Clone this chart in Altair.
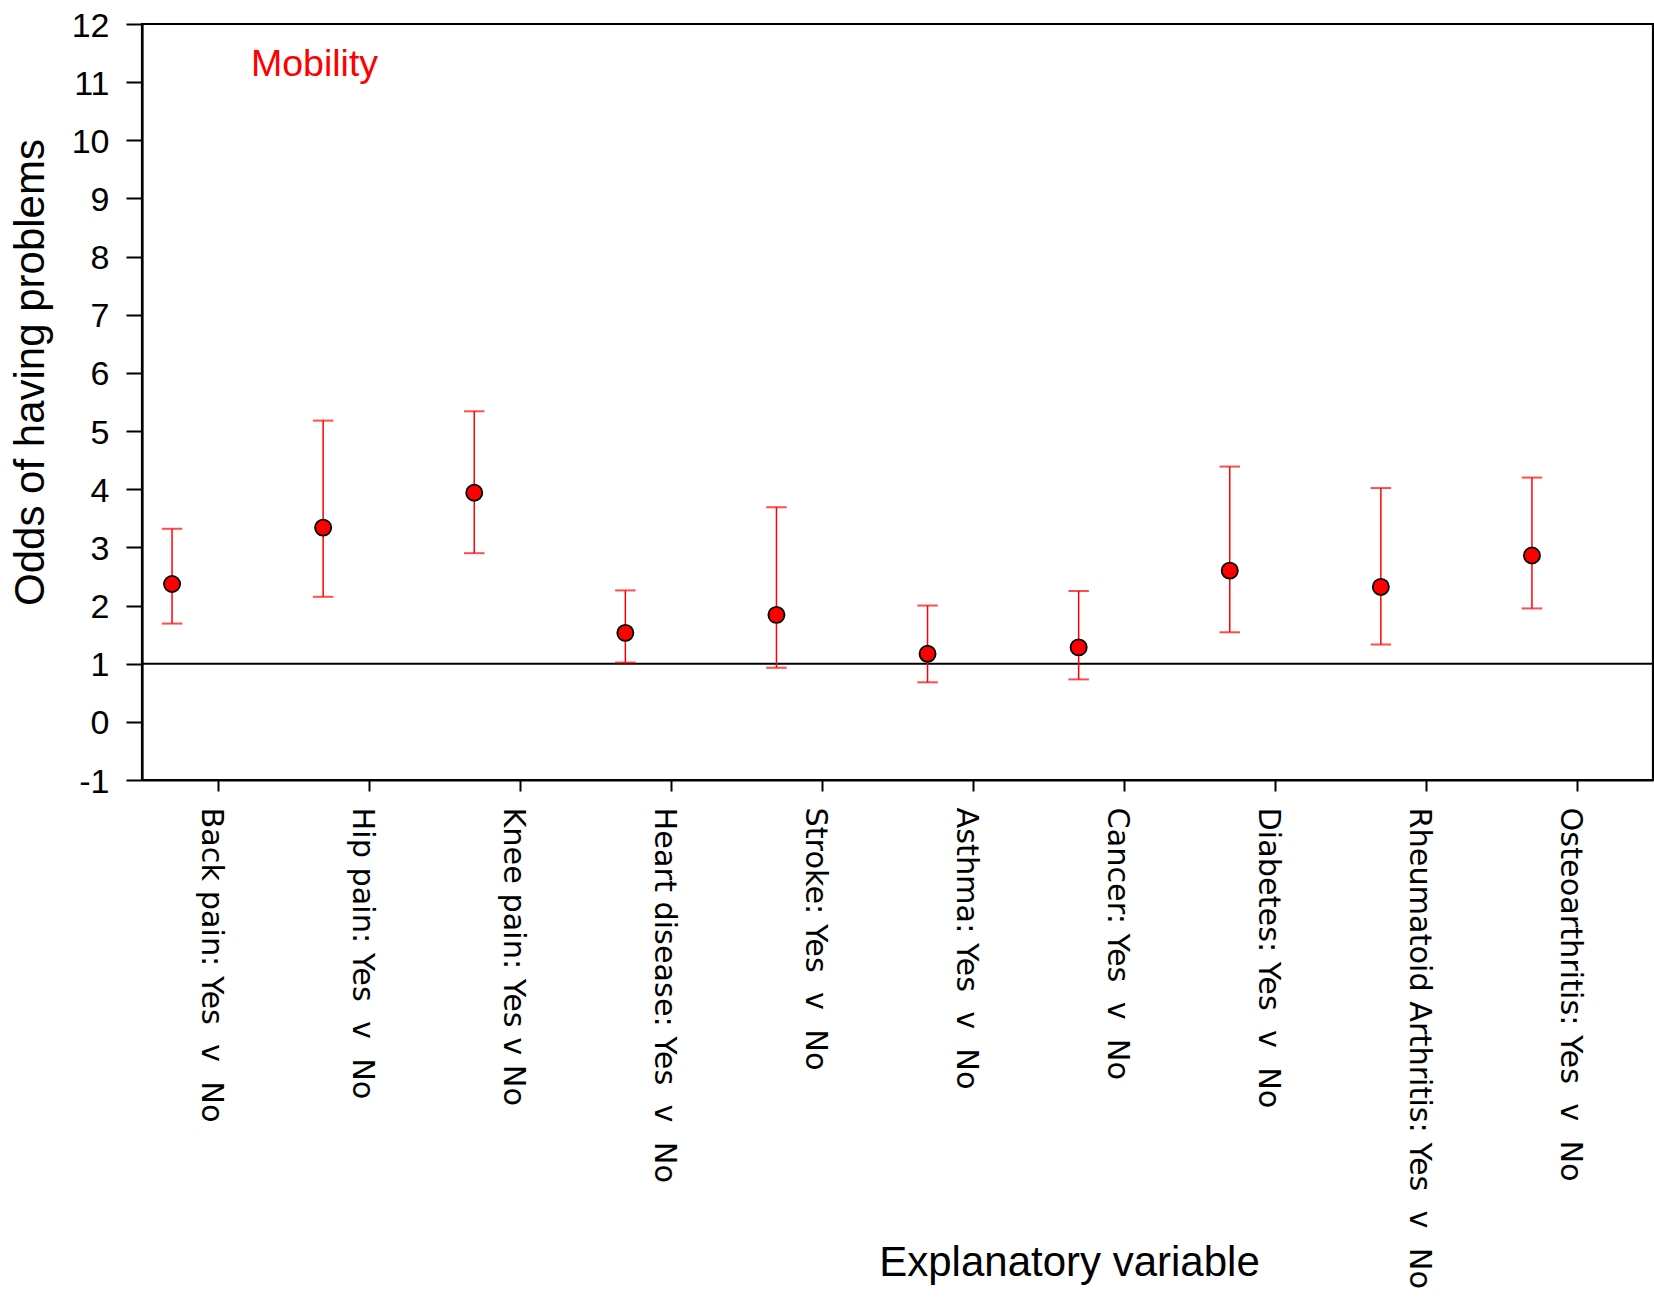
import altair as alt
import pandas as pd

# Odds ratios (with confidence limits) of having mobility problems
categories = [
    "Back pain: Yes\u00a0 v\u00a0 No",
    "Hip pain: Yes\u00a0 v\u00a0 No",
    "Knee pain: Yes v No",
    "Heart disease: Yes\u00a0 v\u00a0 No",
    "Stroke: Yes\u00a0 v\u00a0 No",
    "Asthma: Yes\u00a0 v\u00a0 No",
    "Cancer: Yes\u00a0 v\u00a0 No",
    "Diabetes: Yes\u00a0 v\u00a0 No",
    "Rheumatoid Arthritis: Yes\u00a0 v\u00a0 No",
    "Osteoarthritis: Yes\u00a0 v\u00a0 No",
]
odds = [2.37, 3.34, 3.94, 1.53, 1.84, 1.17, 1.28, 2.60, 2.32, 2.86]
lower = [1.69, 2.15, 2.90, 1.02, 0.93, 0.68, 0.73, 1.54, 1.33, 1.95]
upper = [3.32, 5.18, 5.34, 2.26, 3.69, 2.00, 2.25, 4.39, 4.02, 4.20]
y_ticks = list(range(-1, 13))
reference_odds = [1]
panel_title = ["Mobility"]

df = pd.DataFrame({"variable": categories, "odds": odds, "lower": lower, "upper": upper})

FONT = "Liberation Sans"
RED = "#ff0000"
SHIFT = -45.5  # markers sit left of the category tick

x_enc = alt.X(
    "variable:N",
    sort=categories,
    scale=alt.Scale(type="point", padding=0.5),
    axis=alt.Axis(
        title="Explanatory variable",
        titleFont=FONT,
        titleFontSize=42,
        titleFontWeight="normal",
        titleColor="black",
        titleX=927,
        titleY=495,
        titleAlign="center",
        titleBaseline="alphabetic",
        labelAngle=90,
        labelAlign="left",
        labelBaseline="middle",
        labelFont="DejaVu Sans",
        labelFontSize=30.3,
        labelColor="black",
        labelPadding=16,
        labelOffset=-7.5,
        labelLimit=2000,
        labelOverlap=False,
        labelFlush=False,
        tickSize=11,
        tickWidth=2,
        tickColor="black",
        domainColor="black",
        domainWidth=2.2,
        grid=False,
    ),
)

y_scale = alt.Scale(domain=[-1, 12], nice=False, zero=False)
y_axis = alt.Axis(
    title="Odds of having problems",
    titleFont=FONT,
    titleFontSize=42,
    titleFontWeight="normal",
    titleColor="black",
    titleAngle=270,
    titleX=-98.7,
    titleY=348,
    titleAlign="center",
    titleBaseline="alphabetic",
    values=y_ticks,
    labelExpr="datum.value < 0 ? '-' + abs(datum.value) : '' + datum.value",
    labelFont=FONT,
    labelFontSize=34,
    labelColor="black",
    labelPadding=17,
    labelOffset=2,
    tickSize=16,
    tickWidth=2,
    tickColor="black",
    domainColor="black",
    domainWidth=2.2,
    grid=False,
)

base = alt.Chart(df).encode(x=x_enc)

whiskers = base.mark_rule(color=RED, strokeWidth=1.5, xOffset=SHIFT).encode(
    y=alt.Y("lower:Q", scale=y_scale, axis=y_axis),
    y2="upper:Q",
)
caps_low = base.mark_tick(color=RED, thickness=2, size=20.5, xOffset=SHIFT).encode(
    y=alt.Y("lower:Q", scale=y_scale, axis=y_axis)
)
caps_high = base.mark_tick(color=RED, thickness=2, size=20.5, xOffset=SHIFT).encode(
    y=alt.Y("upper:Q", scale=y_scale, axis=y_axis)
)
points = base.mark_circle(
    color=RED, stroke="black", strokeWidth=1.8, size=260, opacity=1, xOffset=SHIFT
).encode(y=alt.Y("odds:Q", scale=y_scale, axis=y_axis))

ref_line = alt.Chart(pd.DataFrame({"ref": reference_odds})).mark_rule(
    color="black", strokeWidth=2
).encode(y=alt.Y("ref:Q", scale=y_scale, axis=y_axis))

label = alt.Chart(pd.DataFrame({"panel": panel_title})).mark_text(
    align="left", baseline="alphabetic", font=FONT, fontSize=37.5, color=RED
).encode(text="panel:N", x=alt.value(109), y=alt.value(52.3))

chart = (
    alt.layer(ref_line, whiskers, caps_low, caps_high, points, label)
    .properties(
        width=1511,
        height=756,
        autosize=alt.AutoSizeParams(type="none"),
        padding={"left": 142, "top": 24, "right": 1, "bottom": 517},
        background="white",
    )
    .configure_view(stroke="black", strokeWidth=2.2)
)

chart.save("out.html", embed_options={"renderer": "svg", "actions": False})
